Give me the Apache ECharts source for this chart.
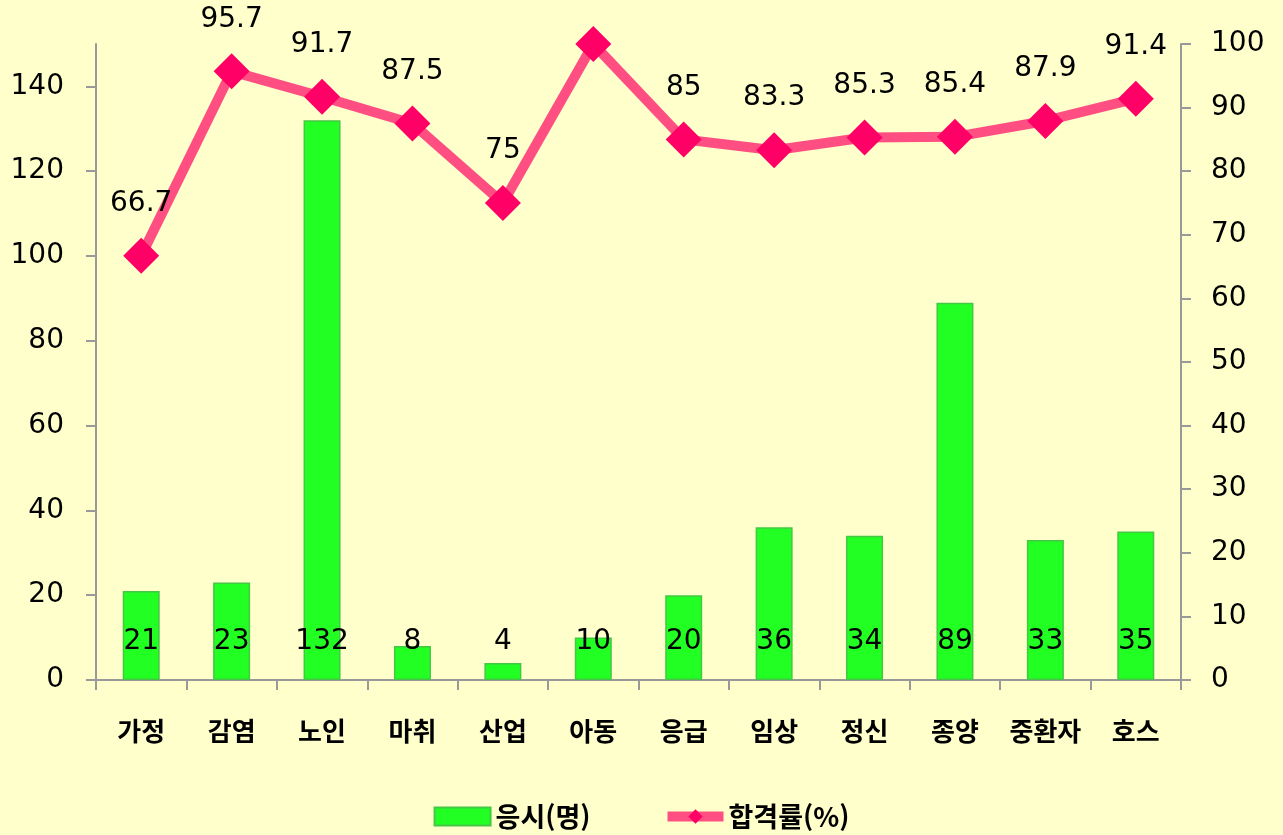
<!DOCTYPE html>
<html lang="ko">
<head>
  <meta charset="UTF-8">
  <title>응시 / 합격률</title>
  <script src="https://cdn.jsdelivr.net/npm/echarts@6/dist/echarts.min.js"></script>
  <style>
    html, body { margin: 0; padding: 0; background: #ffffcc; }
    #main { width: 1283px; height: 835px; }
  </style>
</head>
<body>
<div id="main"></div>
<script>
  const categories = ['가정', '감염', '노인', '마취', '산업', '아동', '응급', '임상', '정신', '종양', '중환자', '호스'];
  const applicants = [21, 23, 132, 8, 4, 10, 20, 36, 34, 89, 33, 35];
  const passRate = [66.7, 95.7, 91.7, 87.5, 75, 100, 85, 83.3, 85.3, 85.4, 87.9, 91.4];
  const leftTicks = [0, 20, 40, 60, 80, 100, 120, 140];

  const korFont = '"Noto Sans CJK KR", sans-serif';
  const numFont = '"DejaVu Sans", sans-serif';
  const axisGray = '#999999';

  const chart = echarts.init(document.getElementById('main'));

  chart.setOption({
    backgroundColor: '#ffffcc',
    animation: false,
    grid: { left: 96, right: 102, top: 44, bottom: 155 },
    legend: {
      bottom: 0,
      left: 'center',
      itemGap: 72,
      itemWidth: 56,
      itemHeight: 18,
      textStyle: { fontSize: 27, fontWeight: 'bold', color: '#000', fontFamily: korFont },
      data: [
        { name: '응시(명)', icon: 'rect' },
        { name: '합격률(%)', lineStyle: { width: 10, color: '#ff4f82' } }
      ]
    },
    xAxis: {
      type: 'category',
      data: categories,
      axisLine: { lineStyle: { color: axisGray, width: 2 } },
      axisTick: { show: true, length: 10, lineStyle: { color: axisGray, width: 2 } },
      axisLabel: { interval: 0, margin: 38, fontSize: 26, fontWeight: 'bold', color: '#000', fontFamily: korFont },
      splitLine: { show: false }
    },
    yAxis: [
      {
        type: 'value',
        min: 0,
        max: 150,
        interval: 10,
        position: 'left',
        axisLine: { show: true, lineStyle: { color: axisGray, width: 2 } },
        axisTick: { show: true, length: 10, customValues: leftTicks, lineStyle: { color: axisGray, width: 2 } },
        axisLabel: { margin: 32, fontSize: 28, color: '#000', fontFamily: numFont, customValues: leftTicks },
        splitLine: { show: false }
      },
      {
        type: 'value',
        min: 0,
        max: 100,
        interval: 10,
        position: 'right',
        axisLine: { show: true, lineStyle: { color: axisGray, width: 2 } },
        axisTick: { show: true, length: 10, lineStyle: { color: axisGray, width: 2 } },
        axisLabel: { margin: 30, fontSize: 28, color: '#000', fontFamily: numFont },
        splitLine: { show: false }
      }
    ],
    series: [
      {
        name: '응시(명)',
        type: 'bar',
        yAxisIndex: 0,
        data: applicants,
        barWidth: 37,
        itemStyle: { color: '#22ff22', borderColor: '#44c844', borderWidth: 1.5 },
        label: {
          show: true,
          position: 'insideBottom',
          distance: 24,
          fontSize: 28,
          color: '#000',
          fontFamily: numFont
        },
        z: 2
      },
      {
        name: '합격률(%)',
        type: 'line',
        yAxisIndex: 1,
        data: passRate,
        symbol: 'diamond',
        symbolSize: 36,
        lineStyle: { color: '#ff4f82', width: 10 },
        itemStyle: { color: '#ff0066' },
        label: {
          show: true,
          position: 'top',
          distance: 20,
          fontSize: 28,
          color: '#000',
          fontFamily: numFont
        },
        z: 3
      }
    ]
  });
</script>
</body>
</html>
